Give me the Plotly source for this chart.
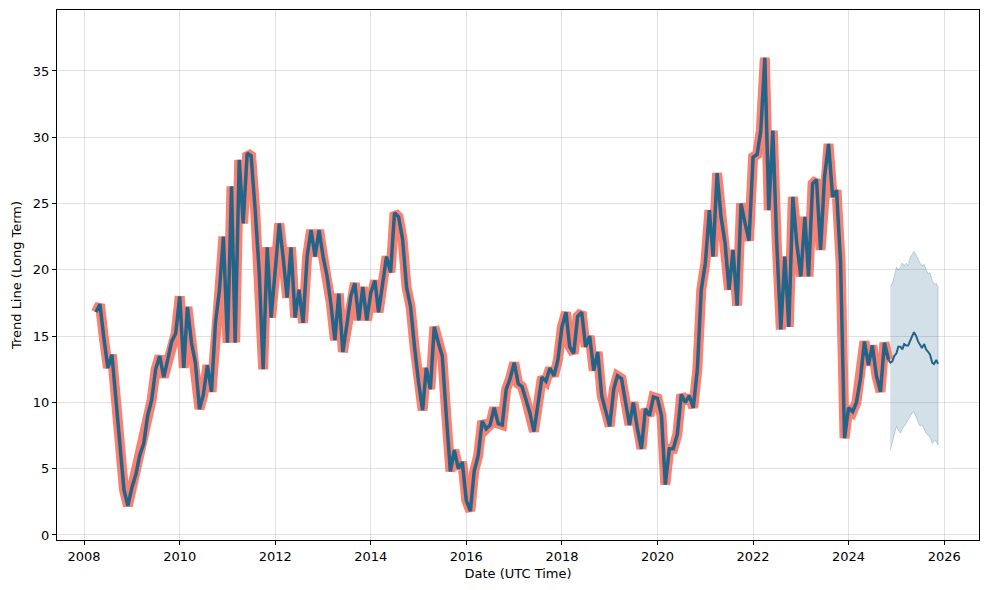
import pandas as pd
import plotly.graph_objects as go

# Monthly observed values (first of month), April 2008 .. November 2024
v2008 = [16.8, 17.4, 14.8, 12.6, 13.6, 10.0, 7.0, 3.4, 2.2]
v2009 = [3.6, 4.6, 6.0, 6.9, 9.0, 10.2, 12.5, 13.5, 11.9, 13.2, 14.6, 15.2]
v2010 = [18.0, 12.6, 17.2, 14.5, 13.0, 9.5, 10.6, 12.8, 10.8, 16.0, 18.5, 22.5]
v2011 = [14.5, 26.3, 14.5, 28.3, 23.5, 28.8, 28.6, 24.5, 19.8, 12.5, 21.7, 16.4]
v2012 = [19.8, 23.5, 21.0, 17.9, 21.7, 16.4, 18.5, 16.0, 21.0, 23.0, 21.0, 23.0]
v2013 = [21.0, 19.5, 17.5, 14.7, 18.2, 13.8, 15.8, 18.0, 19.0, 16.2, 18.7, 16.2]
v2014 = [18.3, 19.2, 16.8, 19.0, 21.0, 19.8, 24.3, 24.0, 22.3, 18.7, 17.2, 14.2]
v2015 = [11.5, 9.4, 12.6, 11.0, 15.7, 14.5, 13.5, 9.0, 4.8, 6.4, 5.0, 5.5]
v2016 = [2.6, 1.8, 4.8, 6.0, 8.6, 8.0, 8.3, 9.6, 8.4, 8.3, 11.0, 11.8]
v2017 = [13.0, 11.4, 11.2, 10.2, 9.2, 7.8, 9.8, 11.9, 11.6, 12.6, 12.0, 13.2]
v2018 = [15.7, 16.8, 14.2, 13.7, 16.5, 16.8, 14.2, 15.0, 12.4, 13.8, 10.5, 9.3]
v2019 = [8.2, 11.0, 12.0, 11.8, 10.0, 8.3, 10.0, 8.0, 6.5, 9.5, 9.0, 10.4]
v2020 = [10.3, 9.0, 3.8, 6.5, 6.5, 7.6, 10.6, 10.0, 10.5, 9.6, 12.5, 18.5]
v2021 = [20.5, 24.5, 21.0, 27.3, 24.0, 22.0, 18.5, 21.5, 17.3, 25.0, 23.5, 22.2]
v2022 = [28.5, 28.7, 30.5, 36.0, 24.5, 30.5, 22.0, 15.5, 21.0, 15.7, 25.5, 22.0]
v2023 = [19.5, 24.0, 19.5, 26.5, 26.8, 21.5, 27.0, 29.5, 25.5, 26.0, 20.5, 7.3]
v2024 = [9.6, 9.3, 10.0, 11.8, 14.6, 12.8, 14.3, 12.0, 10.8, 14.5, 13.2]

observed = (v2008 + v2009 + v2010 + v2011 + v2012 + v2013 + v2014 + v2015 + v2016
            + v2017 + v2018 + v2019 + v2020 + v2021 + v2022 + v2023 + v2024)
obs_dates = pd.date_range("2008-04-01", periods=len(observed), freq="MS")

# Forecast (semi-monthly), Nov 2024 .. Nov 2025
fc_dates = ["2024-11-15", "2024-12-01", "2024-12-15", "2025-01-01", "2025-01-15",
            "2025-02-01", "2025-02-15", "2025-03-01", "2025-03-15", "2025-04-01",
            "2025-04-15", "2025-05-01", "2025-05-15", "2025-06-01", "2025-06-15",
            "2025-07-01", "2025-07-15", "2025-08-01", "2025-08-15", "2025-09-01",
            "2025-09-15", "2025-10-01", "2025-10-15", "2025-11-01", "2025-11-15"]
fc_yhat = [13.0, 13.1, 13.5, 13.7, 14.2, 14.2, 14.0, 14.4, 14.3, 14.3, 14.7, 15.0,
           15.3, 15.0, 14.6, 14.3, 14.1, 14.4, 14.0, 13.8, 13.6, 13.0, 12.9, 13.2, 12.9]
fc_upper = [18.7, 19.0, 19.5, 20.2, 20.0, 20.2, 20.5, 20.3, 20.5, 20.3, 20.9, 21.2,
            21.4, 21.1, 20.8, 20.5, 20.3, 20.4, 20.0, 19.7, 19.8, 19.2, 18.9, 19.0, 18.7]
fc_lower = [6.4, 7.0, 7.6, 8.2, 7.9, 7.7, 8.0, 8.2, 8.4, 8.7, 8.9, 9.2,
            9.3, 8.9, 8.5, 8.2, 8.3, 8.0, 7.7, 7.5, 7.4, 6.9, 7.1, 7.1, 6.8]

y_ticks = [0, 5, 10, 15, 20, 25, 30, 35]
x_tick_years = [2008, 2010, 2012, 2014, 2016, 2018, 2020, 2022, 2024, 2026]

BLUE = "#236488"
SALMON = "#fa8072"

fig = go.Figure()

# uncertainty band for forecast
band_x = list(fc_dates) + list(reversed(fc_dates))
band_y = list(fc_upper) + list(reversed(fc_lower))
fig.add_trace(go.Scatter(x=band_x, y=band_y, fill="toself", mode="lines",
                         line=dict(color="rgba(35,100,136,0.25)", width=1),
                         fillcolor="rgba(35,100,136,0.2)", hoverinfo="skip",
                         showlegend=False))

# observed thick salmon line
fig.add_trace(go.Scatter(x=obs_dates, y=observed, mode="lines",
                         line=dict(color=SALMON, width=10),
                         showlegend=False))
# trend line on top
fig.add_trace(go.Scatter(x=obs_dates, y=observed, mode="lines",
                         line=dict(color=BLUE, width=3.5),
                         showlegend=False))
fig.add_trace(go.Scatter(x=[obs_dates[-1].strftime("%Y-%m-%d")] + fc_dates,
                         y=[observed[-1]] + fc_yhat, mode="lines",
                         line=dict(color=BLUE, width=2),
                         showlegend=False))

font_family = "DejaVu Sans"
fig.update_layout(
    width=989, height=590,
    margin=dict(l=57, r=10, t=10, b=50),
    paper_bgcolor="white", plot_bgcolor="white",
    font=dict(family=font_family, size=13, color="black"),
    xaxis=dict(
        range=["2007-06-08", "2026-09-24"],
        tickvals=[f"{y}-01-01" for y in x_tick_years],
        ticktext=[str(y) for y in x_tick_years],
        showgrid=True, gridcolor="rgba(170,170,180,0.35)", gridwidth=1,
        showline=True, linecolor="black", linewidth=1, mirror=True,
        ticks="outside", ticklen=4, tickcolor="black",
        title=dict(text="Date (UTC Time)", font=dict(size=13), standoff=6),
        zeroline=False,
    ),
    yaxis=dict(
        range=[-0.38, 39.6],
        tickvals=y_ticks,
        showgrid=True, gridcolor="rgba(170,170,180,0.35)", gridwidth=1,
        showline=True, linecolor="black", linewidth=1, mirror=True,
        ticks="outside", ticklen=4, tickcolor="black",
        title=dict(text="Trend Line (Long Term)", font=dict(size=13), standoff=8),
        zeroline=False,
    ),
)

fig.write_html("out.html")
